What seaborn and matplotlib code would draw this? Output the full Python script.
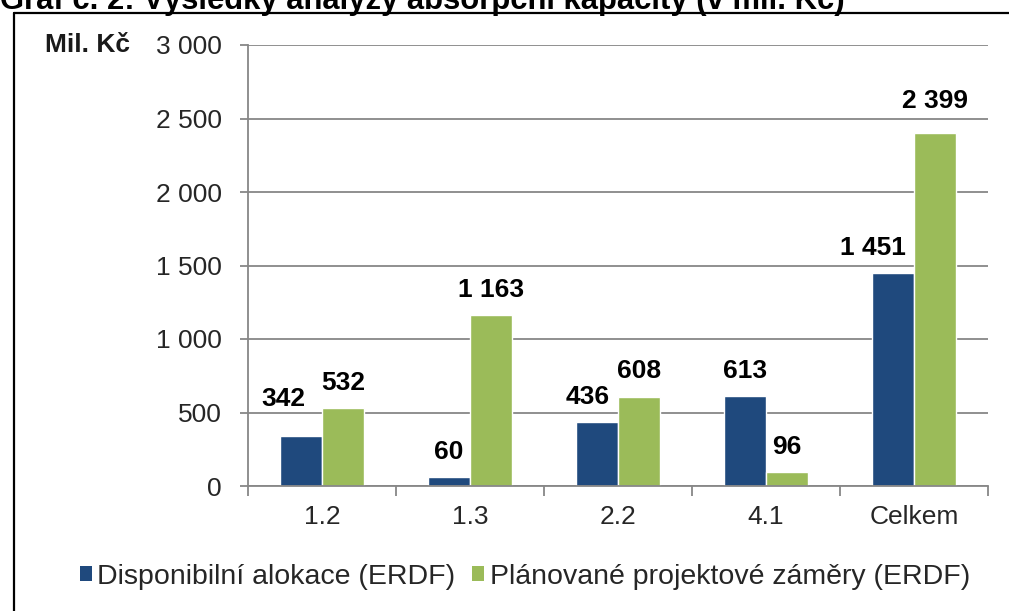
import pandas as pd
import matplotlib.pyplot as plt
import seaborn as sns
from matplotlib.lines import Line2D
from matplotlib.patches import Patch
from matplotlib.ticker import FuncFormatter, FixedLocator
from matplotlib import transforms

# data
kategorie = ["1.2", "1.3", "2.2", "4.1", "Celkem"]
alokace = [342, 60, 436, 613, 1451]
zamery = [532, 1163, 608, 96, 2399]
rady = ["Disponibilní alokace (ERDF)", "Plánované projektové záměry (ERDF)"]
barvy = ["#1F497D", "#9BBB59"]
titulek = "Graf č. 2: Výsledky analýzy absorpční kapacity (v mil. Kč)"

df = pd.DataFrame({
    "kategorie": kategorie * 2,
    "hodnota": alokace + zamery,
    "rada": [rady[0]] * len(kategorie) + [rady[1]] * len(kategorie),
})

sns.set_theme(style="white")
plt.rcParams["font.family"] = ["Liberation Sans", "DejaVu Sans"]

W, H = 1009, 611
fig = plt.figure(figsize=(W / 100, H / 100), dpi=100)
ax = fig.add_axes([248 / W, 1 - 486 / H, 740 / W, 441 / H])

sns.barplot(data=df, x="kategorie", y="hodnota", hue="rada", palette=barvy,
            width=0.57, gap=0, saturation=1, ax=ax, legend=False)

seda = "#878787"
ax.set_ylim(0, 3000)
ax.set_xlim(-0.5, 4.5)
ax.set_xlabel("")
ax.set_ylabel("")
ax.set_yticks(range(0, 3001, 500))
ax.yaxis.set_major_formatter(FuncFormatter(lambda v, p: f"{int(v):,}".replace(",", " ")))
ax.grid(axis="y", color=seda, linewidth=1.3)
ax.set_axisbelow(True)
for s in ["top", "right"]:
    ax.spines[s].set_visible(False)
for s in ["left", "bottom"]:
    ax.spines[s].set_color(seda)
    ax.spines[s].set_linewidth(1.3)

ax.tick_params(axis="y", length=6, width=1.3, color=seda, pad=13, labelsize=19,
               left=True, direction="out")
ax.tick_params(axis="x", which="major", length=0, pad=14, labelsize=19)
ax.xaxis.set_minor_locator(FixedLocator([i - 0.5 for i in range(len(kategorie) + 1)]))
ax.tick_params(axis="x", which="minor", length=7, width=1.3, color=seda, bottom=True,
               direction="out")

# data labels, some nudged like in the original
posun = {(0, 0): (-13, 8), (0, 2): (-6.5, 0), (0, 4): (-14.5, 0), (1, 4): (0, 5)}
for i, cont in enumerate(ax.containers):
    vals = alokace if i == 0 else zamery
    texty = ax.bar_label(cont, labels=[f"{v:,}".replace(",", " ") for v in vals],
                         padding=9, fontsize=19, fontweight="bold", color="black")
    for j, t in enumerate(texty):
        dx, dy = posun.get((i, j), (0, 0))
        t.xyann = (dx, 9.5 + dy)

# unit label next to the top tick
tr = transforms.blended_transform_factory(fig.transFigure, ax.transData)
ax.text(130 / W, 3000, "Mil. Kč", transform=tr, ha="right", va="center",
        fontsize=19, fontweight="bold", color="#1a1a1a")

# legend
handles = [Patch(facecolor=c, edgecolor="none") for c in barvy]
fig.legend(handles, rady, loc="center", bbox_to_anchor=(525 / W, 1 - 577 / H),
           ncol=2, frameon=False, fontsize=20.5, handlelength=0.42, handleheight=0.42,
           handletextpad=0.2, columnspacing=0.6)

# frame and cut-off title
fig.add_artist(Line2D([13.5 / W, 13.5 / W], [-0.05, 1 - 12.5 / H], color="black",
                      linewidth=1.6, transform=fig.transFigure))
fig.add_artist(Line2D([13.5 / W, 1.05], [1 - 12.5 / H, 1 - 12.5 / H], color="black",
                      linewidth=1.6, transform=fig.transFigure))
fig.text(0 / W, 1 - 9 / H, titulek, ha="left", va="baseline", fontsize=22.3,
         fontweight="bold", color="black")

fig.savefig("out.png", dpi=100)
